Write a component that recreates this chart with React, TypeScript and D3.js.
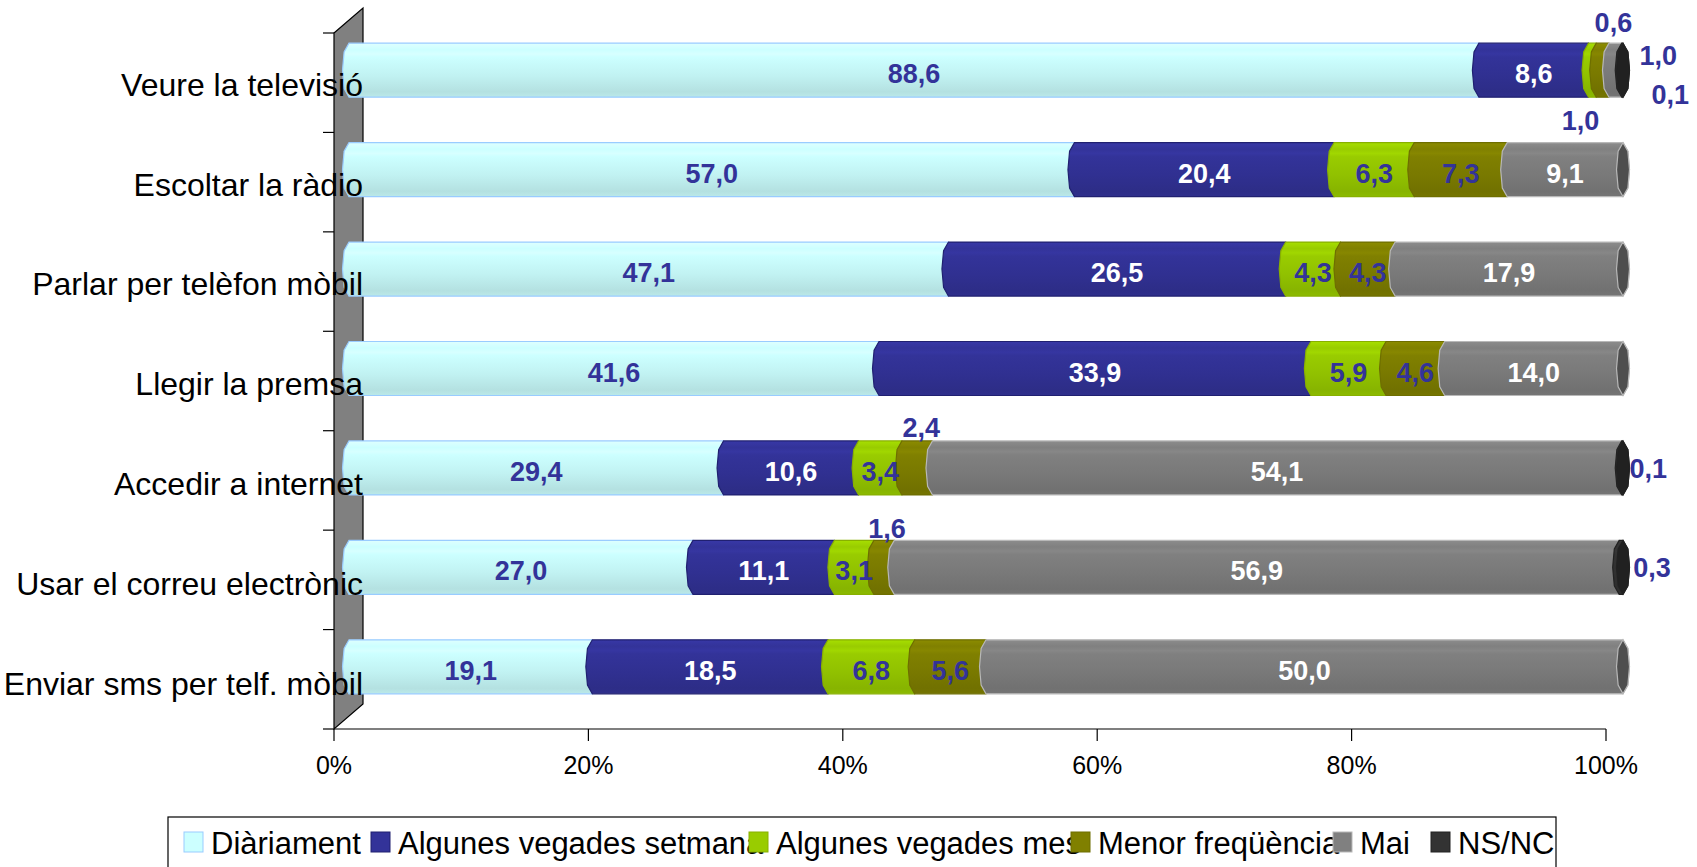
import * as d3 from "d3";
import * as React from "react";

const categories = [
  "Veure la televisió",
  "Escoltar la ràdio",
  "Parlar per telèfon mòbil",
  "Llegir la premsa",
  "Accedir a internet",
  "Usar el correu electrònic",
  "Enviar sms per telf. mòbil",
];
const seriesNames = [
  "Diàriament",
  "Algunes vegades setmana",
  "Algunes vegades mes",
  "Menor freqüència",
  "Mai",
  "NS/NC",
];
const diariament = [88.6, 57.0, 47.1, 41.6, 29.4, 27.0, 19.1];
const setmana = [8.6, 20.4, 26.5, 33.9, 10.6, 11.1, 18.5];
const mes = [0.6, 6.3, 4.3, 5.9, 3.4, 3.1, 6.8];
const menor = [1.0, 7.3, 4.3, 4.6, 2.4, 1.6, 5.6];
const mai = [1.0, 9.1, 17.9, 14.0, 54.1, 56.9, 50.0];
const nsnc = [0.1, 0, 0, 0, 0.1, 0.3, 0];
const xTicks = [0, 20, 40, 60, 80, 100];

const colors = ["#CCFFFF", "#333399", "#99CC00", "#808000", "#808080", "#333333"];
const strokes = ["#99CCFF", "#202070", "#88B000", "#6E6E00", "#B8B8B8", "#222222"];
const labelColors = ["#333399", "#ffffff", "#333399", "#333399", "#ffffff", "#ffffff"];

// labels that sit outside their small segment: [row, series, anchor, dx, dy]
const outsideLabels: [number, number, string, number, number][] = [
  [0, 2, "top", 21, -21],
  [0, 3, "bottom", -22, 23],
  [0, 4, "mid", 43, -15],
  [0, 5, "mid", 48, 24],
  [4, 3, "top", 4, -13],
  [4, 5, "mid", 26, 1],
  [5, 3, "top", 3, -12],
  [5, 5, "mid", 31, 0],
];

const FONT = "'Liberation Sans', Arial, Helvetica, sans-serif";
const W = 1697;
const H = 867;
const DEPTH_X = 29;
const DEPTH_Y = 25;
const BULGE = 6.5;

const values = [diariament, setmana, mes, menor, mai, nsnc];
const rows = categories.map((c, i) => {
  const r: any = { cat: c };
  seriesNames.forEach((s, k) => (r[s] = values[k][i]));
  return r;
});

function capPath(x: number, yt: number, h: number, dir: number) {
  // dir -1 bulges left "(", +1 bulges right ")"; points top -> bottom
  const b = BULGE * dir;
  return [
    [x, yt],
    [x + b * 0.75, yt + h * 0.16],
    [x + b, yt + h * 0.5],
    [x + b * 0.75, yt + h * 0.84],
    [x, yt + h],
  ];
}

function segPath(xa: number, xb: number, yt: number, h: number) {
  const right = capPath(xb, yt, h, 1);
  const left = capPath(xa, yt, h, -1).reverse();
  const pts = [...right, ...left];
  return "M" + pts.map((p) => p.join(",")).join("L") + "Z";
}

export default function App() {
  const axisX = d3.scaleLinear().domain([0, 100]).range([334, 1606]);
  const barX = d3.scaleLinear().domain([0, 1]).range([349, 1623]);
  const y = d3.scaleBand().domain(categories).range([33, 729]).padding(0);
  const bw = y.bandwidth();
  const barH = 54;

  const stack = d3.stack<any>().keys(seriesNames).offset(d3.stackOffsetExpand);
  const stacked = stack(rows);

  const barTop = (cat: string) => (y(cat) as number) + bw / 2 - DEPTH_Y / 2 - barH / 2;

  const outsideSet = new Set(outsideLabels.map((l) => l[0] + "-" + l[1]));

  const segments: React.ReactNode[] = [];
  const labels: React.ReactNode[] = [];
  const fmt = (v: number) => v.toFixed(1).replace(".", ",");

  categories.forEach((cat, i) => {
    const yt = barTop(cat);
    let lastK = 0;
    stacked.forEach((layer, k) => {
      const [a, b] = layer[i];
      const v = values[k][i];
      if (v <= 0) return;
      lastK = k;
      const xa = barX(a);
      const xb = barX(b);
      segments.push(
        <path
          key={`s-${i}-${k}`}
          d={segPath(xa, xb, yt, barH)}
          fill={`url(#grad${k})`}
          stroke={strokes[k]}
          strokeWidth={1.2}
        />
      );
      if (!outsideSet.has(i + "-" + k)) {
        labels.push(
          <text
            key={`l-${i}-${k}`}
            x={(xa + xb) / 2}
            y={yt + barH / 2 + 13}
            textAnchor="middle"
            fontFamily={FONT}
            fontWeight="bold"
            fontSize={27}
            fill={labelColors[k]}
          >
            {fmt(v)}
          </text>
        );
      }
    });
    // end face of the cylinder
    const xe = barX(1);
    const face = [...capPath(xe, yt, barH, 1), ...capPath(xe, yt, barH, -1).reverse()];
    segments.push(
      <path
        key={`f-${i}`}
        d={"M" + face.map((p) => p.join(",")).join("L") + "Z"}
        fill={d3.color(colors[lastK])!.darker(lastK === 5 ? 1.2 : 1.4).formatHex()}
        stroke={strokes[lastK]}
        strokeWidth={1.2}
      />
    );
  });

  outsideLabels.forEach(([i, k, anchor, dx, dy]) => {
    const yt = barTop(categories[i]);
    const [a, b] = stacked[k][i];
    const cx = (barX(a) + barX(b)) / 2 + dx;
    const base = anchor === "top" ? yt : anchor === "bottom" ? yt + barH : yt + barH / 2;
    labels.push(
      <text
        key={`o-${i}-${k}`}
        x={cx}
        y={base + dy + 9.5}
        textAnchor="middle"
        fontFamily={FONT}
        fontWeight="bold"
        fontSize={27}
        fill="#333399"
      >
        {fmt(values[k][i])}
      </text>
    );
  });

  const x0 = axisX(0);
  const yTop = 33;
  const yBot = 729;
  const boundaries = d3.range(categories.length + 1).map((j) => yTop + j * bw);

  const legendItems = [184, 371, 749, 1071, 1333, 1431];

  return (
    <svg
      width={W}
      height={H}
      style={{ position: "absolute", left: 0, top: 0, background: "#fff" }}
    >
      <defs>
        {colors.map((c, k) => {
          const base = d3.color(c)!;
          return (
            <linearGradient key={k} id={`grad${k}`} x1="0" y1="0" x2="0" y2="1">
              <stop offset="0" stopColor={base.brighter(0.25).formatHex()} />
              <stop offset="0.12" stopColor={base.formatHex()} />
              <stop offset="0.2" stopColor={base.brighter(0.15).formatHex()} />
              <stop offset="0.26" stopColor={base.formatHex()} />
              <stop offset="0.6" stopColor={base.darker(0.15).formatHex()} />
              <stop offset="0.9" stopColor={base.darker(0.35).formatHex()} />
              <stop offset="1" stopColor={base.darker(0.25).formatHex()} />
            </linearGradient>
          );
        })}
      </defs>

      {/* side wall */}
      <path
        d={`M${x0},${yTop}L${x0 + DEPTH_X},${yTop - DEPTH_Y}L${x0 + DEPTH_X},${yBot - DEPTH_Y}L${x0},${yBot}Z`}
        fill="#808080"
        stroke="#000"
        strokeWidth={1.2}
      />
      {boundaries.map((by, j) => (
        <line key={j} x1={x0 - 11} x2={x0} y1={by} y2={by} stroke="#000" strokeWidth={1.2} />
      ))}

      {/* x axis */}
      <line x1={x0} x2={axisX(100)} y1={yBot} y2={yBot} stroke="#000" strokeWidth={1.2} />
      {xTicks.map((t) => (
        <g key={t}>
          <line x1={axisX(t)} x2={axisX(t)} y1={yBot} y2={yBot + 12} stroke="#000" strokeWidth={1.2} />
          <text x={axisX(t)} y={774} textAnchor="middle" fontFamily={FONT} fontSize={25} fill="#000">
            {t}%
          </text>
        </g>
      ))}

      {segments}
      {labels}

      {categories.map((c, i) => (
        <text
          key={c}
          x={363}
          y={(y(c) as number) + bw / 2 + 13 + i * 0.4}
          textAnchor="end"
          fontFamily={FONT}
          fontSize={32}
          fill="#000"
        >
          {c}
        </text>
      ))}

      {/* legend */}
      <rect x={168} y={817} width={1388} height={70} fill="#fff" stroke="#000" strokeWidth={1.2} />
      {seriesNames.map((s, k) => (
        <g key={s}>
          <text x={legendItems[k] + 27} y={854} fontFamily={FONT} fontSize={31} fill="#000">
            {s}
          </text>
          <rect
            x={legendItems[k]}
            y={832}
            width={19}
            height={20}
            fill={colors[k]}
            stroke={strokes[k]}
            strokeWidth={1}
          />
        </g>
      ))}
    </svg>
  );
}
